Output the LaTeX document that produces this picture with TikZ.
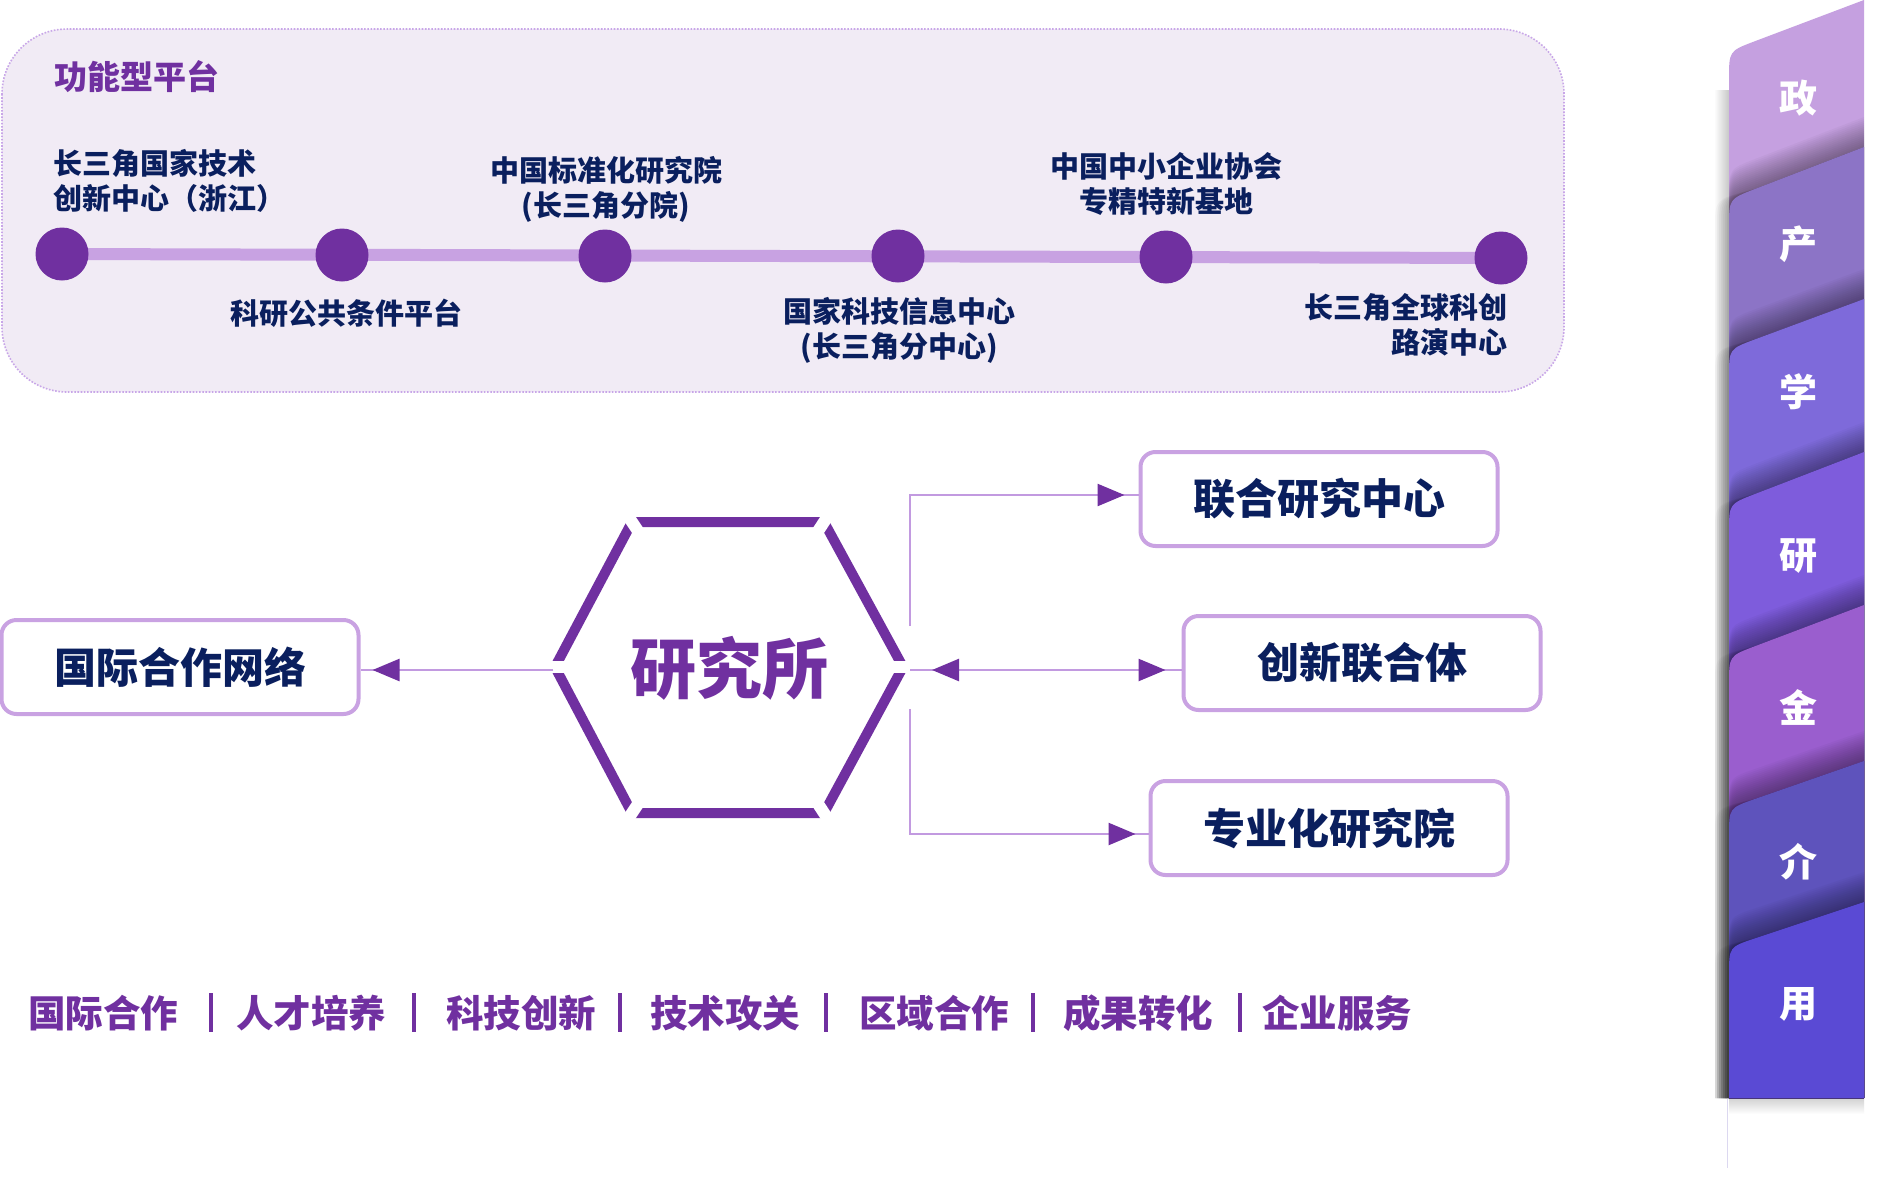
\documentclass[tikz,border=0pt]{standalone}
\usepackage{fontspec}
\setmainfont{Noto Sans CJK SC}
\usetikzlibrary{arrows.meta,calc}
\definecolor{cNavy}{HTML}{0A1F5E}
\definecolor{cPurple}{HTML}{7030A0}
\definecolor{cLav}{HTML}{C9A2E2}
\definecolor{cLine}{HTML}{C29AE0}
\definecolor{cTl}{HTML}{C8A2E2}
\definecolor{cPanel}{HTML}{F1EBF5}
\definecolor{cPanelB}{HTML}{C8A6E8}
\definecolor{cZheng}{HTML}{C5A0E0}
\definecolor{cChan}{HTML}{8C74C6}
\definecolor{cXue}{HTML}{7E6ADA}
\definecolor{cYan}{HTML}{7E5CDC}
\definecolor{cJin}{HTML}{9A5ECE}
\definecolor{cJie}{HTML}{5E53BC}
\definecolor{cYong}{HTML}{5A4AD4}
\definecolor{cThin}{HTML}{DCD8F0}
\newcommand\sidecard[3]{%
  \foreach \s in {2,4,...,30}{%
    \fill[black,opacity=0.028] (1729,1098) -- (1729,{#2+28-\s}) .. controls (1729,{#2-\s}) .. (1755,{#2-\s+26*(#1-#2)/135}) -- (1864,{#1-\s}) -- (1864,1098) -- cycle;}
  \foreach \s in {2,4,...,14}{%
    \fill[black,opacity=0.025] ({1729-\s},1098) -- ({1729-\s},{#2+28}) .. controls ({1729-\s},#2) .. (1755,{#2+26*(#1-#2)/135}) -- (1864,#1) -- (1864,1098) -- cycle;}
  \fill[#3] (1729,1098) -- (1729,{#2+28}) .. controls (1729,#2) .. (1755,{#2+26*(#1-#2)/135}) -- (1864,#1) -- (1864,1098) -- cycle;}
\begin{document}
\begin{tikzpicture}[x=1pt,y=-1pt,
  lbl/.style={font=\fontsize{29}{35}\selectfont\bfseries, text=cNavy, align=center, inner sep=0pt},
  dotn/.style={circle, fill=cPurple, minimum size=53pt, inner sep=0pt},
  box/.style={draw=cLav, line width=4pt, rounded corners=15pt, fill=white, minimum width=357pt, minimum height=94pt, text=cNavy, font=\fontsize{42}{50}\selectfont\bfseries, inner sep=0pt},
  conn/.style={draw=cLine, line width=2.5pt},
  tipped/.style={conn, -{Triangle[length=27pt,width=22pt,color=cPurple]}},
  kw/.style={text=cPurple, font=\fontsize{37.5}{45}\selectfont\bfseries, inner sep=0pt},
  bar/.style={draw=cPurple, line width=3.5pt},
  side/.style={text=white, font=\fontsize{38}{45}\selectfont\bfseries, inner sep=0pt},
  hexside/.style={draw=cPurple, line width=10pt, line join=miter},
]
\fill[white] (0,0) rectangle (1882,1194);
\useasboundingbox (0,0) rectangle (1882,1194);

% ---------- top panel ----------
\draw[draw=cPanelB, dash pattern=on 1.6pt off 1.6pt, line width=1.6pt, fill=cPanel, rounded corners=65pt] (2,29) rectangle (1564,392);
\node[anchor=west, text=cPurple, font=\fontsize{33}{40}\selectfont\bfseries, inner sep=0pt] (title) at (54,77) {功能型平台};

\coordinate (p1) at (62,254);
\coordinate (p2) at (342,255);
\coordinate (p3) at (605,256);
\coordinate (p4) at (898,256);
\coordinate (p5) at (1166,257);
\coordinate (p6) at (1501,258);
\draw[line width=12pt, cTl] (p1) -- (p6);
\foreach \i in {1,...,6}{\node[dotn] (c\i) at (p\i) {};}

\node[lbl, align=left, anchor=west] (l1) at (53,181) {长三角国家技术\\创新中心（浙江）};
\node[lbl] (l2) at (346,313) {科研公共条件平台};
\node[lbl] (l3) at (606,189) {中国标准化研究院\\(长三角分院)};
\node[lbl] (l4) at (899,330) {国家科技信息中心\\(长三角分中心)};
\node[lbl] (l5) at (1166,184) {中国中小企业协会\\专精特新基地};
\node[lbl, align=right, anchor=east] (l6) at (1508,325) {长三角全球科创\\路演中心};

% ---------- hexagon ----------
\node[font=\fontsize{66}{70}\selectfont\bfseries, text=cPurple, inner sep=0pt] (hex) at (729,668) {研究所};
\coordinate (H1) at (555,667);
\coordinate (H2) at (632,522);
\coordinate (H3) at (824,522);
\coordinate (H4) at (903,667);
\coordinate (H5) at (824,813);
\coordinate (H6) at (632,813);
\draw[hexside] (H1) -- (H2) -- (H3) -- (H4) -- (H5) -- (H6) -- cycle;
\foreach \v in {H1,H2,H3,H4,H5,H6}{\draw[white, line width=12pt] ($(729,667)!0.88!(\v)$) -- ($(729,667)!1.15!(\v)$);}

% ---------- boxes ----------
\node[box] (b0) at (180,667) {国际合作网络};
\node[box] (b1) at (1319,499) {联合研究中心};
\node[box] (b2) at (1362,663) {创新联合体};
\node[box] (b3) at (1329,828) {专业化研究院};

% ---------- connectors ----------
\coordinate (hl) at (553,670);
\draw[conn] (hl) -- (hl -| b0.east);
\draw[tipped, shorten >=12pt] (hl) -- (hl -| b0.east);

\coordinate (t0) at (910,626);
\coordinate (t1) at (910,495);
\draw[conn] (t0) -- (t1) -- (t1 -| b1.west);
\draw[tipped, shorten >=14pt] (t1) -- (t1 -| b1.west);

\coordinate (m0) at (910,670);
\draw[conn] (m0) -- (m0 -| b2.west);
\draw[conn, {Triangle[length=27pt,width=22pt,color=cPurple]}-{Triangle[length=27pt,width=22pt,color=cPurple]}, shorten <=22pt, shorten >=16pt] (m0) -- (m0 -| b2.west);

\coordinate (d0) at (910,709);
\coordinate (d1) at (910,834);
\draw[conn] (d0) -- (d1) -- (d1 -| b3.west);
\draw[tipped, shorten >=13pt] (d1) -- (d1 -| b3.west);

% ---------- bottom keywords ----------
\node[kw] (k1) at (103,1013) {国际合作};
\node[kw] (k2) at (311,1013) {人才培养};
\node[kw] (k3) at (521,1013) {科技创新};
\node[kw] (k4) at (725,1013) {技术攻关};
\node[kw] (k5) at (934,1013) {区域合作};
\node[kw] (k6) at (1138,1013) {成果转化};
\node[kw] (k7) at (1337,1013) {企业服务};
\foreach \x in {211,414,620,826,1033,1240}{\draw[bar] (\x,993) -- (\x,1032);}

% ---------- right sidebar ----------
\shade[left color=white, right color=black!22] (1714,90) rectangle (1729,1098);
\shade[top color=black!18, bottom color=white] (1729,1098) rectangle (1864,1114);
\draw[cThin, line width=1pt] (1727,1098) -- (1727,1168);
\fill[cZheng] (1729,1098) -- (1729,{51+28}) .. controls (1729,51) .. (1755,{51+26*(0-51)/135}) -- (1864,0) -- (1864,1098) -- cycle;
\sidecard{147}{199}{cChan}
\sidecard{299}{349}{cXue}
\sidecard{452}{504}{cYan}
\sidecard{605}{656}{cJin}
\sidecard{761}{808}{cJie}
\sidecard{902}{947}{cYong}
\node[side] (s1) at (1798,98) {政};
\node[side] (s2) at (1798,244) {产};
\node[side] (s3) at (1798,392) {学};
\node[side] (s4) at (1798,556) {研};
\node[side] (s5) at (1798,707) {金};
\node[side] (s6) at (1798,862) {介};
\node[side] (s7) at (1798,1004) {用};
\end{tikzpicture}
\end{document}
